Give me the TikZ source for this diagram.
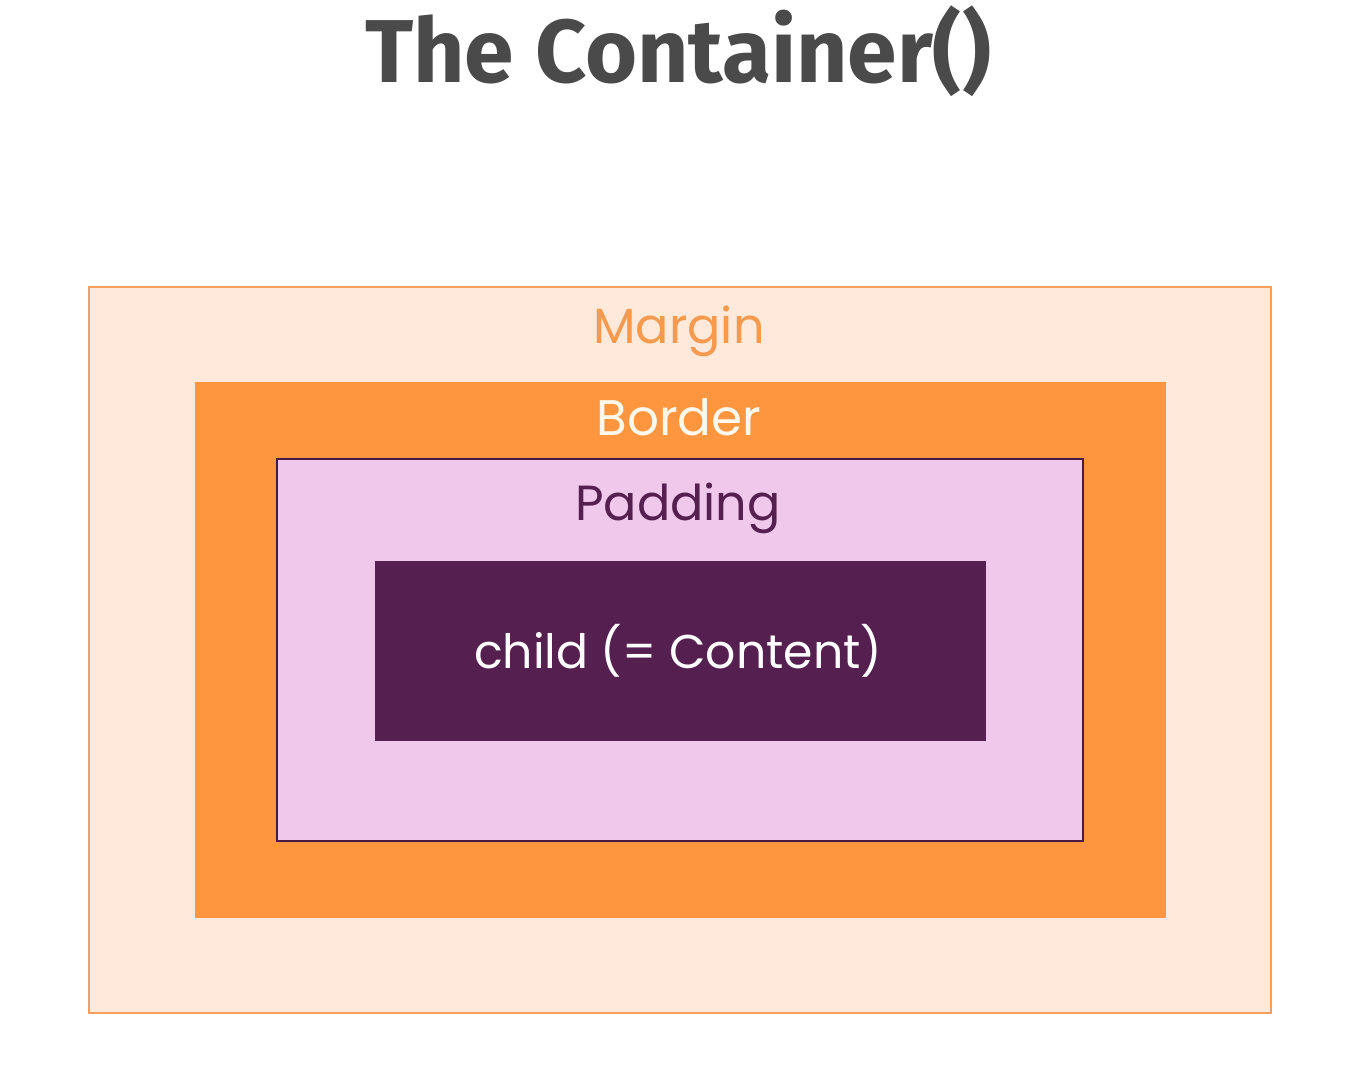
\documentclass[tikz,border=0pt]{standalone}
\usepackage{fontspec}
\setmainfont{Poppins}
\newfontfamily\titlefont{Fira Sans}
\definecolor{marginfill}{HTML}{FEE9DA}
\definecolor{marginline}{HTML}{F5A060}
\definecolor{borderfill}{HTML}{FE9640}
\definecolor{paddingfill}{HTML}{F0C8EB}
\definecolor{paddingline}{HTML}{4A1A45}
\definecolor{contentfill}{HTML}{55204F}
\definecolor{margintext}{HTML}{F79A4E}
\definecolor{bordertext}{HTML}{FFF8EC}
\definecolor{titletext}{HTML}{4A4A4A}
\tikzset{
  box/.style={inner sep=0pt, outer sep=0pt},
  lbl/.style={anchor=base, inner sep=0pt},
}
\begin{document}
\begin{tikzpicture}[x=0.75pt,y=-0.75pt]
\useasboundingbox[fill=white] (0,0) rectangle (1358,1074);
% boxes
\draw[marginline, fill=marginfill, line width=1.5pt] (89,287) rectangle (1271,1013);
\fill[borderfill] (195,382) rectangle (1166,918);
\draw[paddingline, fill=paddingfill, line width=1.5pt] (277,459) rectangle (1083,841);
\fill[contentfill] (375,561) rectangle (986,741);
% labels
\node[lbl, font=\titlefont\bfseries\fontsize{67}{72}\selectfont, text=titletext] (title) at (678,82) {The Container()};
\node[lbl, font=\fontsize{37}{42}\selectfont, text=margintext] (margin) at (679,343) {Margin};
\node[lbl, font=\fontsize{37.5}{42}\selectfont, text=bordertext] (border) at (679,435) {Border};
\node[lbl, font=\fontsize{37}{42}\selectfont, text=contentfill] (padding) at (678,520) {Padding};
\node[lbl, font=\fontsize{35.5}{40}\selectfont, text=white] (child) at (678,668) {child (= Content)};
\end{tikzpicture}
\end{document}
